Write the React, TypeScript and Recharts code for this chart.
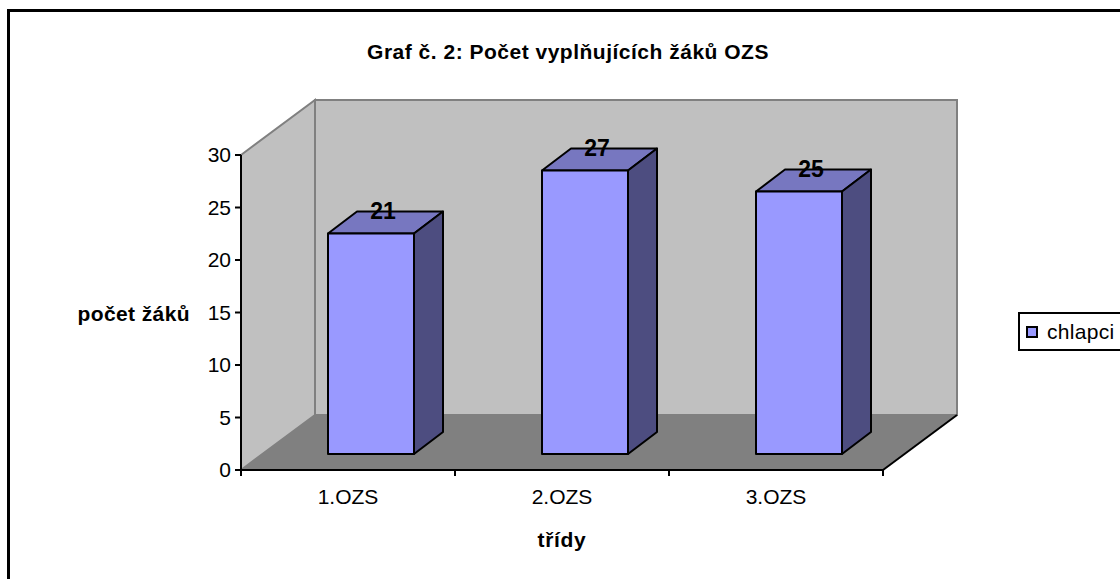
import { Bar, BarChart, LabelList, Legend, ReferenceArea, XAxis, YAxis } from "recharts";

const categories = ["1.OZS", "2.OZS", "3.OZS"];
const chlapci = [21, 27, 25];
const yTicks = [0, 5, 10, 15, 20, 25, 30];

const FONT = "'Liberation Sans', Arial, sans-serif";

// fake 3D offsets: wall depth, bar seat on the floor, bar depth
const WALL_DX = 74;
const WALL_DY = 55;
const SEAT_DX = 23;
const SEAT_DY = 16;
const BAR_DX = 29;
const BAR_DY = 22;

const data = categories.map((name, i) => ({ name, chlapci: chlapci[i] }));

// Side wall, back wall and floor, sized from the plot area the reference area gets.
function Walls({ x, y, width, height }: any) {
  const bottom = y + height;
  const right = x + width;
  const step = width / categories.length;
  return (
    <g>
      <polygon
        points={`${x},${y} ${x + WALL_DX},${y - WALL_DY} ${x + WALL_DX},${bottom - WALL_DY} ${x},${bottom}`}
        fill="#c0c0c0"
        stroke="#808080"
        strokeWidth={2}
      />
      <rect
        x={x + WALL_DX}
        y={y - WALL_DY}
        width={width}
        height={height}
        fill="#c0c0c0"
        stroke="#808080"
        strokeWidth={2}
      />
      <polygon
        points={`${x},${bottom} ${x + WALL_DX},${bottom - WALL_DY} ${right + WALL_DX},${bottom - WALL_DY} ${right},${bottom}`}
        fill="#808080"
      />
      <line x1={right} y1={bottom} x2={right + WALL_DX} y2={bottom - WALL_DY} stroke="#000" strokeWidth={2} />
      {[0, 1, 2, 3].map((i) => (
        <line
          key={i}
          x1={x + i * step}
          x2={x + i * step}
          y1={bottom}
          y2={bottom + 6}
          stroke="#000"
          strokeWidth={2}
        />
      ))}
    </g>
  );
}

function Bar3D({ x, y, width, height }: any) {
  const left = x + SEAT_DX;
  const top = y - SEAT_DY;
  const right = left + width;
  const bottom = top + height;
  const edge = { stroke: "#000", strokeWidth: 2, strokeLinejoin: "round" as const };
  return (
    <g>
      <polygon
        points={`${left},${top} ${left + BAR_DX},${top - BAR_DY} ${right + BAR_DX},${top - BAR_DY} ${right},${top}`}
        fill="#7777c0"
        {...edge}
      />
      <polygon
        points={`${right},${top} ${right + BAR_DX},${top - BAR_DY} ${right + BAR_DX},${bottom - BAR_DY} ${right},${bottom}`}
        fill="#4d4d80"
        {...edge}
      />
      <rect x={left} y={top} width={width} height={height} fill="#9999ff" {...edge} />
    </g>
  );
}

function BarValue({ x, y, width, value }: any) {
  return (
    <text
      x={x + width / 2 + SEAT_DX + 12}
      y={y - SEAT_DY - 23}
      textAnchor="middle"
      dominantBaseline="central"
      fontFamily={FONT}
      fontSize={23}
      fontWeight="bold"
      fill="#000"
    >
      {value}
    </text>
  );
}

function LegendBox() {
  return (
    <div
      style={{
        width: 102,
        height: 39,
        boxSizing: "border-box",
        border: "2px solid #000",
        borderRight: "none",
        background: "#fff",
        display: "flex",
        alignItems: "center",
        fontFamily: FONT,
        fontSize: 21,
        letterSpacing: 0.3,
        color: "#000",
      }}
    >
      <span
        style={{
          width: 12,
          height: 12,
          boxSizing: "border-box",
          border: "2px solid #000",
          background: "#9999ff",
          marginLeft: 6,
          marginRight: 9,
        }}
      />
      chlapci
    </div>
  );
}

export default function App() {
  return (
    <div style={{ position: "absolute", left: 0, top: 0, width: 1120, height: 579, overflow: "hidden", background: "#fff" }}>
      <div
        style={{
          position: "absolute",
          left: 7,
          top: 9,
          right: 0,
          bottom: 0,
          borderLeft: "3px solid #000",
          borderTop: "3px solid #000",
        }}
      />
      <BarChart
        width={1120}
        height={579}
        data={data}
        margin={{ top: 155, right: 135, bottom: 69, left: 171 }}
        barCategoryGap={64}
        style={{ position: "absolute", left: 0, top: 0 }}
      >
        <text
          x={568}
          y={59}
          textAnchor="middle"
          fontFamily={FONT}
          fontSize={21}
          letterSpacing={0.5}
          fontWeight="bold"
          fill="#000"
        >
          Graf č. 2: Počet vyplňujících žáků OZS
        </text>
        <XAxis
          dataKey="name"
          tickLine={false}
          axisLine={{ stroke: "#000", strokeWidth: 2 }}
          tick={{ fill: "#000", fontSize: 21, fontFamily: FONT }}
          tickMargin={13}
          height={40}
          label={{
            value: "třídy",
            position: "insideBottom",
            offset: -37,
            fill: "#000",
            fontSize: 21,
            letterSpacing: 0.7,
            fontWeight: "bold",
            fontFamily: FONT,
          }}
        />
        <YAxis
          domain={[0, 30]}
          ticks={yTicks}
          interval={0}
          width={70}
          tickSize={6}
          tickMargin={4}
          axisLine={{ stroke: "#000", strokeWidth: 2 }}
          tickLine={{ stroke: "#000", strokeWidth: 2 }}
          tick={{ fill: "#000", fontSize: 21, fontFamily: FONT }}
          label={{
            value: "počet žáků",
            position: "left",
            offset: -19,
            dy: 1,
            fill: "#000",
            fontSize: 21,
            letterSpacing: 0.4,
            fontWeight: "bold",
            fontFamily: FONT,
          }}
        />
        <ReferenceArea y1={0} y2={30} shape={Walls} ifOverflow="visible" />
        <Legend
          layout="vertical"
          align="right"
          verticalAlign="middle"
          content={<LegendBox />}
          wrapperStyle={{ position: "absolute", left: 1018, top: 312, right: "auto", width: 102, height: 39 }}
        />
        <Bar dataKey="chlapci" shape={Bar3D} isAnimationActive={false}>
          <LabelList dataKey="chlapci" content={BarValue} />
        </Bar>
      </BarChart>
    </div>
  );
}
